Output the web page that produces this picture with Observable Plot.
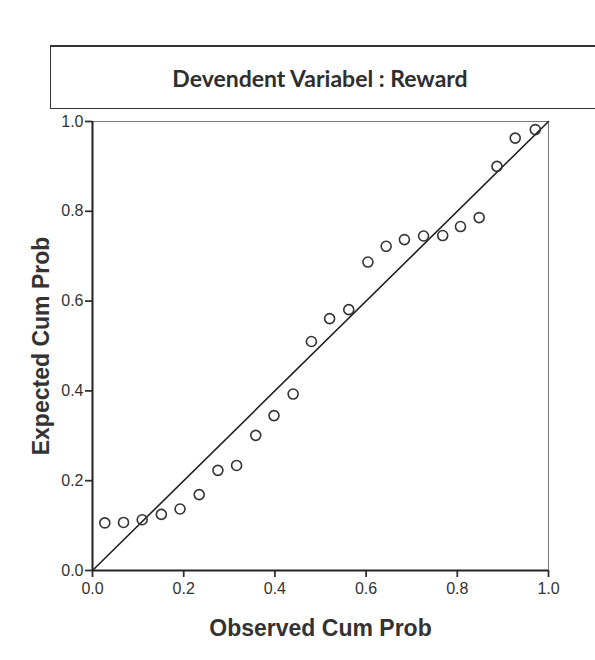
<!DOCTYPE html>
<html>
<head>
<meta charset="utf-8">
<script src="https://cdn.jsdelivr.net/npm/d3@7"></script>
<script src="https://cdn.jsdelivr.net/npm/@observablehq/plot@0.6"></script>
<style>
  html, body { margin: 0; padding: 0; background: #fff; }
  body { width: 595px; height: 660px; overflow: hidden; position: relative; font-family: "Liberation Sans", Arial, sans-serif; }
  #titlebox {
    position: absolute; left: 50px; top: 45px; width: 600px; height: 64px;
    box-sizing: border-box; border: 1.5px solid #333; border-top-width: 2px;
    padding-right: 60px;
    display: flex; align-items: center; justify-content: center;
    font-family: Lato, "Open Sans", sans-serif; font-weight: 700; font-size: 23px; color: #2e2e2e;
  }
  #chart { position: absolute; left: 0; top: 109px; }
</style>
</head>
<body>
<div id="titlebox">Devendent Variabel : Reward</div>
<div id="chart"></div>
<script>
// Observed cumulative probability (x) and expected cumulative probability (y)
const observedCumProb = [0.027, 0.068, 0.109, 0.151, 0.192, 0.234, 0.275, 0.316, 0.358, 0.398, 0.440, 0.480,
                         0.520, 0.562, 0.604, 0.644, 0.684, 0.726, 0.768, 0.807, 0.848, 0.887, 0.927, 0.971];
const expectedCumProb = [0.106, 0.107, 0.113, 0.125, 0.137, 0.169, 0.223, 0.234, 0.301, 0.345, 0.393, 0.510,
                         0.561, 0.581, 0.687, 0.722, 0.737, 0.745, 0.746, 0.766, 0.786, 0.900, 0.963, 0.982];
const xTicks = [0, 0.2, 0.4, 0.6, 0.8, 1.0];
const yTicks = [0, 0.2, 0.4, 0.6, 0.8, 1.0];
const diagonal = [0, 1];
const xLabel = "Observed Cum Prob";
const yLabel = "Expected Cum Prob";

const points = observedCumProb.map((x, i) => ({obs: x, exp: expectedCumProb[i]}));

const chart = Plot.plot({
  width: 595,
  height: 551,
  marginTop: 12,
  marginBottom: 90,
  marginLeft: 92,
  marginRight: 47,
  style: {fontFamily: "'Liberation Sans', Arial, sans-serif", fontSize: "16px", color: "#333", background: "transparent", overflow: "visible"},
  x: {domain: [0, 1]},
  y: {domain: [0, 1]},
  marks: [
    Plot.frame({stroke: "#777", strokeWidth: 1}),
    Plot.axisX({ticks: xTicks, tickFormat: ".1f", tickSize: 7, tickPadding: 5, label: null, strokeWidth: 1.8, stroke: "#333", fill: "#333"}),
    Plot.axisY({ticks: yTicks, tickFormat: ".1f", tickSize: 7, tickPadding: 2, label: null, strokeWidth: 1.8, stroke: "#333", fill: "#333"}),
    Plot.ruleX([0], {stroke: "#222", strokeWidth: 2}),
    Plot.ruleY([0], {stroke: "#222", strokeWidth: 2}),
    Plot.line(diagonal, {x: d => d, y: d => d, stroke: "#222", strokeWidth: 1.6}),
    Plot.dot(points, {x: "obs", y: "exp", r: 5, stroke: "#333", strokeWidth: 1.6, fill: "none"}),
    Plot.text([xLabel], {text: d => d, frameAnchor: "bottom", lineAnchor: "middle", dy: 58, fontSize: 23, fontWeight: "bold", fill: "#333"}),
    Plot.text([yLabel], {text: d => d, frameAnchor: "left", lineAnchor: "middle", textAnchor: "middle", rotate: -90, dx: -51, fontSize: 23, fontWeight: "bold", fill: "#333"})
  ]
});
document.getElementById("chart").appendChild(chart);
</script>
</body>
</html>
